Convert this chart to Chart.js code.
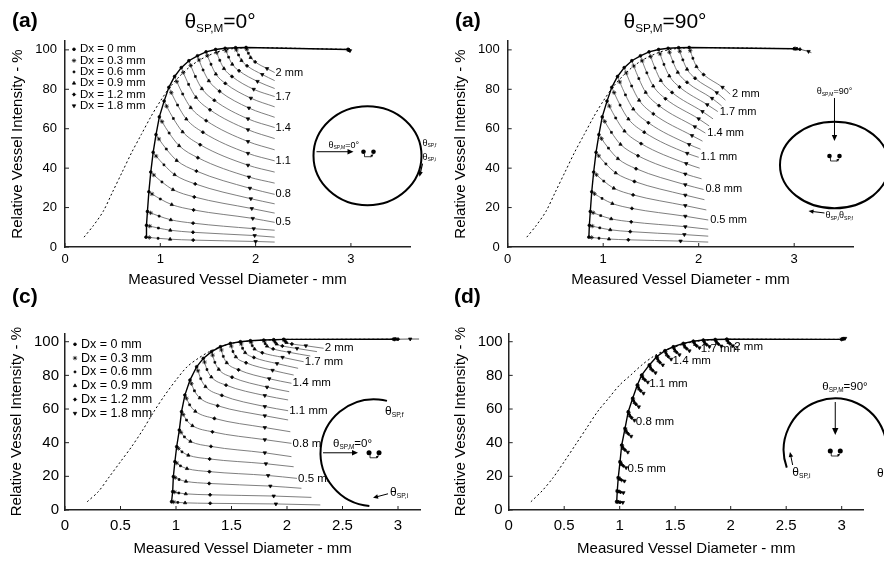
<!DOCTYPE html>
<html><head><meta charset="utf-8">
<script src="https://cdn.jsdelivr.net/npm/chart.js@4/dist/chart.umd.min.js"></script>
<style>
html,body{margin:0;padding:0;background:#fff;width:884px;height:561px;overflow:hidden;position:relative}
.p{position:absolute}
</style></head><body>
<div class="p" style="left:0;top:0;width:442px;height:300px"><canvas id="cA"></canvas></div>
<div class="p" style="left:442px;top:0;width:442px;height:300px"><canvas id="cB"></canvas></div>
<div class="p" style="left:0;top:280px;width:442px;height:281px"><canvas id="cC"></canvas></div>
<div class="p" style="left:442px;top:280px;width:442px;height:281px"><canvas id="cD"></canvas></div>
<script>
// ---------- shared ----------
const DIAM = [0.2,0.3,0.4,0.5,0.6,0.7,0.8,0.9,1.0,1.1,1.2,1.3,1.4,1.5,1.6,1.7,1.8,1.9,2.0]; // true vessel diameter (mm)
const DX = [0,0.3,0.6,0.9,1.2,1.8];       // blur offsets (mm)
const XT_AB = [0,1,2,3];
const XT_CD = [0,0.5,1,1.5,2,2.5,3];
const YT = [0,20,40,60,80,100];
const LBL_IDX = [3,6,9,12,15,18];
const LBL_A = ['0.5','0.8','1.1','1.4','1.7','2 mm'];
const LBL_MM = ['0.5 mm','0.8 mm','1.1 mm','1.4 mm','1.7 mm','2 mm'];

// ---------- panel (a) θ=0° ----------
const A_X00 = [0.85,0.855,0.865,0.88,0.90,0.925,0.955,0.99,1.04,1.09,1.15,1.22,1.30,1.39,1.48,1.58,1.68,1.79,1.90];
const A_Y00 = [5,11,18,28,38,48,57,66,74,81,86.5,91,94.5,97,99,100.2,100.8,101.1,101.2];
const A_X03 = [0.885,0.889,0.898,0.913,0.932,0.956,0.985,1.018,1.066,1.115,1.173,1.241,1.319,1.406,1.494,1.592,1.690,1.798,1.907];
const A_Y03 = [4.82,10.58,17.3,26.9,36.5,46.1,54.8,63.6,71.4,78.3,83.9,88.5,92.1,94.9,97.1,98.6,99.5,100.0,100.3];
const A_X06 = [0.977,0.980,0.988,1.0,1.017,1.038,1.063,1.093,1.137,1.181,1.235,1.297,1.368,1.449,1.532,1.624,1.717,1.821,1.924];
const A_Y06 = [4.41,9.6,15.65,24.35,33.0,41.7,49.7,57.8,65.2,72.0,77.6,82.5,86.5,89.8,92.7,94.7,96.3,97.4,98.3];
const A_X09 = [1.103,1.105,1.110,1.12,1.133,1.15,1.172,1.197,1.234,1.273,1.319,1.374,1.436,1.509,1.583,1.668,1.755,1.852,1.948];
const A_Y09 = [3.94,8.5,13.8,21.5,29.1,36.7,43.9,51.4,58.4,64.9,70.7,75.9,80.3,84.3,87.7,90.5,92.7,94.6,96.1];
const A_X12 = [1.345,1.343,1.344,1.349,1.356,1.366,1.379,1.394,1.418,1.447,1.481,1.521,1.567,1.622,1.682,1.752,1.826,1.910,1.995];
const A_Y12 = [3.5,7.46,12.1,18.8,25.4,32.0,38.5,45.3,51.9,58.2,64.1,69.6,74.4,79.0,83.0,86.5,89.4,91.9,93.9];
const A_X18 = [2.00,1.99,1.98,1.97,1.96,1.95,1.94,1.93,1.92,1.92,1.92,1.92,1.92,1.93,1.95,1.98,2.02,2.07,2.12];
const A_Y18 = [2.8,5.8,9.3,14.5,19.5,24.5,29.8,35.5,41.5,47.5,53.5,59.5,65,70.5,75.5,80,84,87.5,90.5];
const A_XE = [2.2,2.2,2.2,2.2,2.2,2.2,2.2,2.2,2.2,2.2,2.2,2.2,2.2,2.2,2.2,2.2,2.2,2.2,2.2];
const A_YE = [2.5,5,8.5,12.5,17.2,21.9,26.7,32.4,38,43.7,49.3,55,60.6,65.8,71.1,76.3,80.4,84.4,88.5];
const A_D3X = [2.97,2.97,2.975,2.98,2.98,2.99,3.0];
const A_D3Y = [100.2,100.1,100,99.9,99.8,99.6,99.5];

// ---------- panel (b) θ=90° ----------
const B_X00 = [0.85,0.855,0.865,0.88,0.90,0.925,0.955,0.99,1.04,1.09,1.15,1.22,1.30,1.39,1.48,1.58,1.68,1.79,1.90];
const B_Y00 = [5,11,18,28,38,48,57,66,74,81,86.5,91,94.5,97,99,100.2,100.8,101.1,101.2];
const B_X03 = [0.879,0.885,0.895,0.909,0.929,0.953,0.982,1.016,1.065,1.114,1.173,1.241,1.320,1.408,1.497,1.595,1.694,1.802,1.911];
const B_Y03 = [4.84,10.62,17.38,27.01,36.64,46.26,54.97,63.68,71.46,78.32,83.74,88.24,91.82,94.44,96.58,97.96,98.77,99.28,99.58];
const B_X06 = [0.956,0.964,0.974,0.988,1.006,1.028,1.055,1.086,1.131,1.177,1.233,1.298,1.373,1.457,1.542,1.636,1.731,1.834,1.939];
const B_Y06 = [4.46,9.73,15.92,24.65,33.41,42.14,50.14,58.17,65.44,71.95,77.18,81.68,85.45,88.36,90.82,92.64,93.94,94.94,95.75];
const B_X09 = [1.061,1.074,1.084,1.096,1.111,1.131,1.154,1.181,1.223,1.264,1.315,1.376,1.445,1.524,1.603,1.692,1.781,1.878,1.977];
const B_Y09 = [4.04,8.74,14.3,22.05,29.84,37.58,44.81,52.08,58.78,64.92,69.94,74.44,78.42,81.64,84.46,86.76,88.61,90.16,91.5];
const B_X12 = [1.263,1.283,1.293,1.301,1.313,1.327,1.344,1.364,1.397,1.430,1.473,1.525,1.584,1.652,1.721,1.799,1.878,1.962,2.051];
const B_Y12 = [3.64,7.8,12.76,19.57,26.44,33.24,39.73,46.28,52.44,58.22,63.04,67.54,71.72,75.24,78.4,81.16,83.53,85.6,87.46];
const B_X18 = [1.81,1.85,1.86,1.86,1.86,1.86,1.86,1.86,1.87,1.88,1.90,1.93,1.96,2.00,2.04,2.09,2.14,2.19,2.25];
const B_Y18 = [3.0,6.3,10.3,15.6,21,26.3,31.6,37,42.3,47.5,52,56.5,61,65,68.7,72.2,75.4,78.3,81];
const B_XE = [2.1,2.1,2.1,2.1,2.08,2.06,2.05,2.03,2.01,2.0,2.02,2.04,2.07,2.11,2.15,2.2,2.24,2.28,2.33];
const B_YE = [2.5,5.5,9.0,13.7,18.8,24,29.2,34.6,40,45.5,49.6,53.7,57.8,61.4,65,68.7,71.6,74.5,77.5];
const B_D3X = [3.0,3.01,3.02,3.03,3.06,3.15,3.18];
const B_D3Y = [100.6,100.6,100.5,100.5,100.3,99.2,98.6];

// ---------- panel (c) θ=0° ----------
const C_X00 = [0.96,0.97,0.976,0.99,1.006,1.03,1.05,1.08,1.126,1.186,1.246,1.32,1.40,1.49,1.58,1.67,1.79,1.88,1.97];
const C_Y00 = [4.9,10.9,19.8,28.7,37.6,47.5,58.4,68.3,77.2,85.1,90.1,94.1,97,99,100,100.6,101,101.2,101.4];
const C_X03 = [0.979,0.988,0.993,1.007,1.022,1.045,1.065,1.094,1.139,1.198,1.257,1.33,1.409,1.498,1.587,1.676,1.795,1.884,1.974];
const C_Y03 = [4.77,10.64,19.24,27.88,36.59,46.15,56.74,66.37,75.08,82.74,87.89,91.99,95.1,97.4,98.7,99.61,100.27,100.68,101.02];
const C_X06 = [1.016,1.025,1.028,1.04,1.054,1.076,1.095,1.123,1.166,1.223,1.279,1.35,1.426,1.513,1.60,1.687,1.804,1.893,1.982];
const C_Y06 = [4.51,10.12,18.12,26.24,34.57,43.45,53.42,62.51,70.84,78.02,83.47,87.77,91.3,94.2,96.1,97.63,98.81,99.64,100.26];
const C_X09 = [1.082,1.088,1.09,1.099,1.111,1.13,1.148,1.174,1.214,1.266,1.318,1.385,1.457,1.539,1.623,1.708,1.82,1.907,1.996];
const C_Y09 = [4.25,9.6,17.0,24.6,32.55,40.75,50.1,58.65,66.6,73.3,79.05,83.55,87.5,91,93.5,95.65,97.35,98.6,99.5];
const C_X12 = [1.308,1.307,1.299,1.301,1.303,1.315,1.328,1.346,1.375,1.413,1.451,1.505,1.563,1.631,1.702,1.777,1.875,1.958,2.044];
const C_Y12 = [3.96,9.03,15.77,22.8,30.33,37.78,46.45,54.4,61.94,68.11,74.19,78.91,83.32,87.48,90.64,93.47,95.74,97.46,98.66];
const C_X18 = [1.90,1.88,1.85,1.83,1.81,1.80,1.80,1.80,1.80,1.80,1.80,1.82,1.84,1.87,1.91,1.96,2.02,2.09,2.17];
const C_Y18 = [3.6,8.3,14.2,20.5,27.5,34,41.8,49,56,61.5,68,73,78,83,87,90.7,93.7,96,97.6];
const C_XE = [2.30,2.22,2.13,2.09,2.06,2.04,2.04,2.03,2.01,2.01,2.01,2.02,2.04,2.06,2.10,2.15,2.21,2.27,2.33];
const C_YE = [3.0,7.5,12.9,18.8,25.7,31.7,39.6,46.5,53.5,59,65.4,70.3,75.3,80.2,84.2,88.1,91.5,94.1,96.1];
const C_D3X = [2.96,2.97,2.97,2.98,3.0,3.11,3.19];
const C_D3Y = [101.5,101.5,101.5,101.5,101.5,101.6,101.6];

// ---------- panel (d) θ=90° ----------
const D_X00 = [0.973,0.978,0.987,1.003,1.018,1.048,1.077,1.117,1.159,1.198,1.267,1.333,1.408,1.483,1.573,1.663,1.753,1.86,1.964];
const D_Y00 = [4.9,11.3,19.2,28.7,38.6,48.5,58.4,66.4,74.3,80.2,86.2,91.1,94.7,97,99,100.3,101,101.3,101.5];
const D_X03 = [0.976,0.981,0.99,1.006,1.021,1.051,1.08,1.12,1.162,1.201,1.27,1.336,1.411,1.486,1.576,1.666,1.756,1.863,1.967];
const D_Y03 = [4.86,11.2,19.0,28.34,38.18,48.03,57.89,65.89,73.81,79.78,85.73,90.61,94.19,96.52,98.56,99.91,100.61,100.91,101.11];
const D_X06 = [0.981,0.986,0.995,1.011,1.026,1.056,1.085,1.125,1.167,1.206,1.275,1.341,1.416,1.491,1.581,1.671,1.761,1.868,1.972];
const D_Y06 = [4.77,10.99,18.59,27.63,37.33,47.1,56.87,64.87,72.82,78.93,84.8,89.62,93.17,95.57,97.67,99.13,99.83,100.13,100.33];
const D_X09 = [0.99,0.995,1.004,1.02,1.035,1.065,1.094,1.134,1.176,1.215,1.284,1.35,1.425,1.5,1.59,1.68,1.77,1.877,1.981];
const D_Y09 = [4.69,10.79,18.18,26.92,36.48,46.16,55.85,63.85,71.84,78.08,83.86,88.64,92.15,94.62,96.79,98.35,99.05,99.35,99.55];
const D_X12 = [1.003,1.008,1.017,1.033,1.048,1.078,1.107,1.147,1.189,1.228,1.297,1.363,1.438,1.513,1.603,1.693,1.783,1.89,1.994];
const D_Y12 = [4.6,10.59,17.77,26.2,35.63,45.22,54.83,62.83,70.85,77.23,82.92,87.65,91.13,93.67,95.91,97.56,98.26,98.56,98.76];
const D_X18 = [1.028,1.033,1.042,1.058,1.073,1.103,1.132,1.172,1.214,1.253,1.322,1.388,1.463,1.538,1.628,1.718,1.808,1.915,2.019];
const D_Y18 = [4.47,10.28,17.16,25.13,34.35,43.82,53.3,61.3,69.37,75.95,81.52,86.17,89.6,92.24,94.58,96.39,97.09,97.39,97.59];
const D_XE = [1.038,1.043,1.052,1.068,1.083,1.113,1.142,1.182,1.224,1.263,1.332,1.398,1.473,1.548,1.638,1.728,1.818,1.925,2.029];
const D_YE = [4.4,10.1,16.8,24.5,33.6,43,52.4,60.4,68.5,75.2,80.7,85.3,88.7,91.4,93.8,95.7,96.4,96.7,96.9];
const D_D3X = [3.0,3.0,3.01,3.01,3.02,3.03,3.04];
const D_D3Y = [101.4,101.5,101.6,101.7,101.8,102,102.1];

// ---------- helpers ----------
const FF = '"Liberation Sans", Arial, Helvetica, sans-serif';
Chart.defaults.font.family = FF;
const PSTYLE = ['circle','star','rect','triangle','rectRot','triangle',false];
const PRAD = [1.4,2.2,1.3,1.9,1.7,2.0,0];
const PROT = [0,0,0,0,0,180,0];

function panelData(X, Y, D3X, D3Y){
  const ds = [];
  const env = [], dash = [];
  for (let i=0;i<DIAM.length;i++){
    ds.push({data: X.map((a,k)=>({x:a[i], y:Y[k][i]})), borderColor:'#5e5e5e', borderWidth:0.8,
      pointStyle:PSTYLE, pointRadius:PRAD, pointRotation:PROT, pointBackgroundColor:'#000', pointBorderColor:'#000',
      pointBorderWidth:0.7, cubicInterpolationMode:'monotone', fill:false});
    env.push({x:X[0][i], y:Y[0][i]});
    dash.push({x:DIAM[i], y:Y[0][i]});
  }
  ds.push({data: D3X.map((x,k)=>({x, y:D3Y[k]})), borderColor:'#333', borderWidth:0.8,
    pointStyle:PSTYLE, pointRadius:PRAD, pointRotation:PROT, pointBackgroundColor:'#000', pointBorderColor:'#000',
    pointBorderWidth:0.7, tension:0, fill:false});
  env.push({x:D3X[0], y:D3Y[0]});
  dash.push({x:3.0, y:D3Y[0]});
  ds.push({data:env, borderColor:'#000', borderWidth:1.4, pointRadius:0, tension:0, fill:false});
  ds.push({data:dash, borderColor:'#000', borderWidth:1, borderDash:[2,2.5], pointRadius:0, tension:0.3, fill:false});
  return ds;
}

function thetaText(ctx, x, y, sub, rest, size, align){
  const ss = size*0.56;
  ctx.font = size+'px '+FF; const w1 = ctx.measureText('θ').width; const w3 = rest ? ctx.measureText(rest).width : 0;
  ctx.font = ss+'px '+FF; const w2 = ctx.measureText(sub).width;
  let x0 = align==='center' ? x-(w1+w2+w3)/2 : x;
  ctx.textAlign='left'; ctx.textBaseline='alphabetic'; ctx.fillStyle='#000';
  ctx.font = size+'px '+FF; ctx.fillText('θ', x0, y);
  ctx.font = ss+'px '+FF; ctx.fillText(sub, x0+w1, y+size*0.18);
  if (rest){ ctx.font = size+'px '+FF; ctx.fillText(rest, x0+w1+w2, y); }
  return x0+w1+w2+w3;
}
function arrow(ctx,x1,y1,x2,y2,h,lw){
  ctx.save(); ctx.strokeStyle='#000'; ctx.fillStyle='#000'; ctx.lineWidth=lw||1;
  const a=Math.atan2(y2-y1,x2-x1);
  ctx.beginPath(); ctx.moveTo(x1,y1); ctx.lineTo(x2-h*0.7*Math.cos(a),y2-h*0.7*Math.sin(a)); ctx.stroke();
  ctx.beginPath(); ctx.moveTo(x2,y2);
  ctx.lineTo(x2-h*Math.cos(a)+h*0.45*Math.sin(a), y2-h*Math.sin(a)-h*0.45*Math.cos(a));
  ctx.lineTo(x2-h*Math.cos(a)-h*0.45*Math.sin(a), y2-h*Math.sin(a)+h*0.45*Math.cos(a));
  ctx.closePath(); ctx.fill(); ctx.restore();
}
function dots(ctx,cx,cy,r){
  ctx.fillStyle='#000';
  [-5,5].forEach(dx=>{ctx.beginPath(); ctx.arc(cx+dx,cy,r,0,Math.PI*2); ctx.fill();});
  ctx.strokeStyle='#000'; ctx.lineWidth=0.8;
  ctx.beginPath(); ctx.moveTo(cx-4,cy+2); ctx.lineTo(cx-4,cy+5); ctx.lineTo(cx+3,cy+5); ctx.stroke();
  arrow(ctx,cx+2,cy+5,cx+5,cy+2.5,3,0.8);
}
const R = Math.PI/180;

function insetA(ctx,cx,cy){
  ctx.save(); ctx.lineWidth=2; ctx.strokeStyle='#000'; ctx.fillStyle='#fff';
  ctx.beginPath(); ctx.ellipse(cx,cy,54,49.5,0,0,Math.PI*2); ctx.fill(); ctx.stroke();
  arrow(ctx,cx-51,cy-4,cx-14,cy-4,6,1);
  thetaText(ctx,cx-39,cy-8,'SP,M','=0°',9);
  dots(ctx,cx+1,cy-4,2.3);
  thetaText(ctx,cx+55,cy-10,'SP,f','',9);
  thetaText(ctx,cx+55,cy+4,'SP,i','',9);
  arrow(ctx,cx+55,cy+8,cx+52,cy+21,5,1.2);
  ctx.restore();
}
function insetB(ctx,cx,cy){
  ctx.save(); ctx.lineWidth=2; ctx.strokeStyle='#000'; ctx.fillStyle='#fff';
  ctx.beginPath(); ctx.ellipse(cx,cy,54.5,43.3,0,0,Math.PI*2); ctx.fill(); ctx.stroke();
  thetaText(ctx,cx,cy-71,'SP,M','=90°',9,'center');
  arrow(ctx,cx,cy-67,cx,cy-24,6,1);
  dots(ctx,cx,cy-9,2.3);
  arrow(ctx,cx-10,cy+48,cx-26,cy+46,5,1);
  const e = thetaText(ctx,cx-9,cy+53,'SP,i','',9);
  thetaText(ctx,e,cy+53,'SP,f','',9);
  ctx.restore();
}
function insetC(ctx,cx,cy){
  ctx.save(); ctx.lineWidth=2; ctx.strokeStyle='#000'; ctx.fillStyle='#fff';
  ctx.beginPath(); ctx.arc(cx,cy,53.5,0,Math.PI*2); ctx.fill();
  ctx.beginPath(); ctx.arc(cx,cy,53.5,95*R,284*R,false); ctx.stroke();
  arrow(ctx,cx-51,cy,cx-16,cy,6,1);
  thetaText(ctx,cx-41,cy-6,'SP,M','=0°',11.5);
  dots(ctx,cx,cy,2.5);
  thetaText(ctx,cx+11,cy-38,'SP,f','',12);
  thetaText(ctx,cx+16,cy+43,'SP,i','',12);
  arrow(ctx,cx+14,cy+41,cx-1,cy+45,5,1);
  ctx.restore();
}
function insetD(ctx,cx,cy){
  ctx.save(); ctx.lineWidth=2; ctx.strokeStyle='#000'; ctx.fillStyle='#fff';
  ctx.beginPath(); ctx.arc(cx,cy,51.6,0,Math.PI*2); ctx.fill();
  ctx.beginPath(); ctx.arc(cx,cy,51.6,160*R,370*R,false); ctx.stroke();
  thetaText(ctx,cx-13,cy-60,'SP,M','=90°',11.5);
  arrow(ctx,cx,cy-48,cx,cy-15,7,1);
  dots(ctx,cx,cy+1,2.5);
  thetaText(ctx,cx-43,cy+26,'SP,i','',12);
  arrow(ctx,cx-42.6,cy+15,cx-45.3,cy+2,5,1);
  thetaText(ctx,cx+41.7,cy+27,'SP,f','',12);
  ctx.restore();
}

const innerTicks = {id:'innerTicks', afterDraw(chart){
  const {ctx, chartArea:a, scales:{x,y}} = chart;
  ctx.save(); ctx.strokeStyle='#222'; ctx.lineWidth=1;
  x.ticks.forEach(t=>{const p=x.getPixelForValue(t.value); ctx.beginPath(); ctx.moveTo(p,a.bottom); ctx.lineTo(p,a.bottom-4); ctx.stroke();});
  y.ticks.forEach(t=>{const p=y.getPixelForValue(t.value); ctx.beginPath(); ctx.moveTo(a.left,p); ctx.lineTo(a.left+4,p); ctx.stroke();});
  ctx.restore();
}};

function overlay(o){ return {id:'ov', afterDraw(chart){
  const ctx=chart.ctx, xs=chart.scales.x, ys=chart.scales.y;
  ctx.save(); ctx.fillStyle='#000';
  ctx.font='bold 21px '+FF; ctx.textAlign='left'; ctx.textBaseline='middle';
  ctx.fillText(o.letter, o.lx, o.ly);
  if (o.title) thetaText(ctx, o.tx, o.ty, 'SP,M', o.title, 21, 'center');
  if (o.legend){
    const L=o.legend;
    DX.forEach((v,k)=>{
      const yy=L.y0+k*L.dy;
      ctx.fillStyle='#000'; ctx.strokeStyle='#000'; ctx.lineWidth=0.7;
      Chart.helpers.drawPoint(ctx,{pointStyle:PSTYLE[k],radius:PRAD[k],rotation:PROT[k],borderWidth:0.7},L.mx,yy);
      ctx.font=L.fs+'px '+FF; ctx.textAlign='left'; ctx.textBaseline='middle';
      ctx.fillText('Dx = '+v+' mm', L.tx, yy);
    });
  }
  ctx.font=o.lfs+'px '+FF; ctx.textAlign='left'; ctx.textBaseline='middle'; ctx.fillStyle='#000';
  LBL_IDX.forEach((i,k)=>{
    ctx.fillText(o.labels[k], xs.getPixelForValue(o.XE[i]+o.ldx), ys.getPixelForValue(o.YE[i]));
  });
  o.inset(ctx, xs.getPixelForValue(o.icx), ys.getPixelForValue(o.icy));
  ctx.restore();
}};}

function makeChart(id, ds, s, ov){
  return new Chart(document.getElementById(id), {
    type:'line', data:{datasets:ds},
    options:{responsive:true, maintainAspectRatio:false, animation:false, events:[], parsing:true,
      layout:{padding:s.pad},
      plugins:{legend:{display:false}, tooltip:{enabled:false}},
      scales:{
        x:{type:'linear', min:0, max:s.xmax,
          afterBuildTicks:sc=>{sc.ticks=s.xt.map(v=>({value:v}));}, afterFit:sc=>{sc.height=s.xh;},
          grid:{display:false, drawTicks:false}, border:{display:true, color:'#222', width:1.5},
          ticks:{color:'#000', font:{size:s.tf}, padding:s.xpad, maxRotation:0, autoSkip:false,
                 callback:v=>String(Math.round(v*10)/10)},
          title:{display:true, text:'Measured Vessel Diameter - mm', color:'#000', font:{size:15}, padding:{top:0,bottom:s.xtb}}},
        y:{type:'linear', min:0, max:s.ymax,
          afterBuildTicks:sc=>{sc.ticks=YT.map(v=>({value:v}));}, afterFit:sc=>{sc.width=65;},
          grid:{display:false, drawTicks:false}, border:{display:true, color:'#222', width:1.5},
          ticks:{color:'#000', font:{size:s.tf}, padding:s.ypad, callback:v=>String(v)},
          title:{display:true, text:'Relative Vessel Intensity - %', color:'#000', font:{size:15}, padding:{top:s.ytp,bottom:0}}}
      }},
    plugins:[innerTicks, overlay(ov)]
  });
}

makeChart('cA',
  panelData([A_X00,A_X03,A_X06,A_X09,A_X12,A_X18,A_XE],[A_Y00,A_Y03,A_Y06,A_Y09,A_Y12,A_Y18,A_YE],A_D3X,A_D3Y),
  {pad:{left:0,right:32,top:41,bottom:0}, xmax:3.62, ymax:104.5, xt:XT_AB, xh:53, tf:13, xpad:5, ypad:8, xtb:11.5, ytp:9},
  {letter:'(a)', lx:12, ly:21, title:'=0°', tx:220, ty:28,
   legend:{mx:74, tx:80, y0:49.3, dy:11.3, fs:11.5},
   labels:LBL_A, XE:A_XE, YE:A_YE, ldx:0.01, lfs:11, inset:insetA, icx:3.174, icy:46.3});

makeChart('cB',
  panelData([B_X00,B_X03,B_X06,B_X09,B_X12,B_X18,B_XE],[B_Y00,B_Y03,B_Y06,B_Y09,B_Y12,B_Y18,B_YE],B_D3X,B_D3Y),
  {pad:{left:0.7,right:30.6,top:41,bottom:0}, xmax:3.62, ymax:104.5, xt:XT_AB, xh:53, tf:13, xpad:5, ypad:8, xtb:11.5, ytp:9},
  {letter:'(a)', lx:13, ly:21, title:'=90°', tx:223, ty:28,
   labels:LBL_MM, XE:B_XE, YE:B_YE, ldx:0.02, lfs:11, inset:insetB, icx:3.422, icy:41.6});

makeChart('cC',
  panelData([C_X00,C_X03,C_X06,C_X09,C_X12,C_X18,C_XE],[C_Y00,C_Y03,C_Y06,C_Y09,C_Y12,C_Y18,C_YE],C_D3X,C_D3Y),
  {pad:{left:0,right:21.8,top:53.3,bottom:0}, xmax:3.2, ymax:105, xt:XT_CD, xh:51, tf:15, xpad:7, ypad:6, xtb:2.7, ytp:8},
  {letter:'(c)', lx:12, ly:17,
   legend:{mx:75, tx:81, y0:64.3, dy:13.8, fs:12.5},
   labels:LBL_MM, XE:C_XE, YE:C_YE, ldx:0.01, lfs:11.5, inset:insetC, icx:2.784, icy:34.0});

makeChart('cD',
  panelData([D_X00,D_X03,D_X06,D_X09,D_X12,D_X18,D_XE],[D_Y00,D_Y03,D_Y06,D_Y09,D_Y12,D_Y18,D_YE],D_D3X,D_D3Y),
  {pad:{left:1.7,right:20.1,top:53.3,bottom:0}, xmax:3.2, ymax:105, xt:XT_CD, xh:51, tf:15, xpad:7, ypad:6, xtb:2.7, ytp:8},
  {letter:'(d)', lx:12, ly:17,
   labels:LBL_MM, XE:D_XE, YE:D_YE, ldx:0.003, lfs:11.5, inset:insetD, icx:2.942, icy:35.65});
</script>
</body></html>
